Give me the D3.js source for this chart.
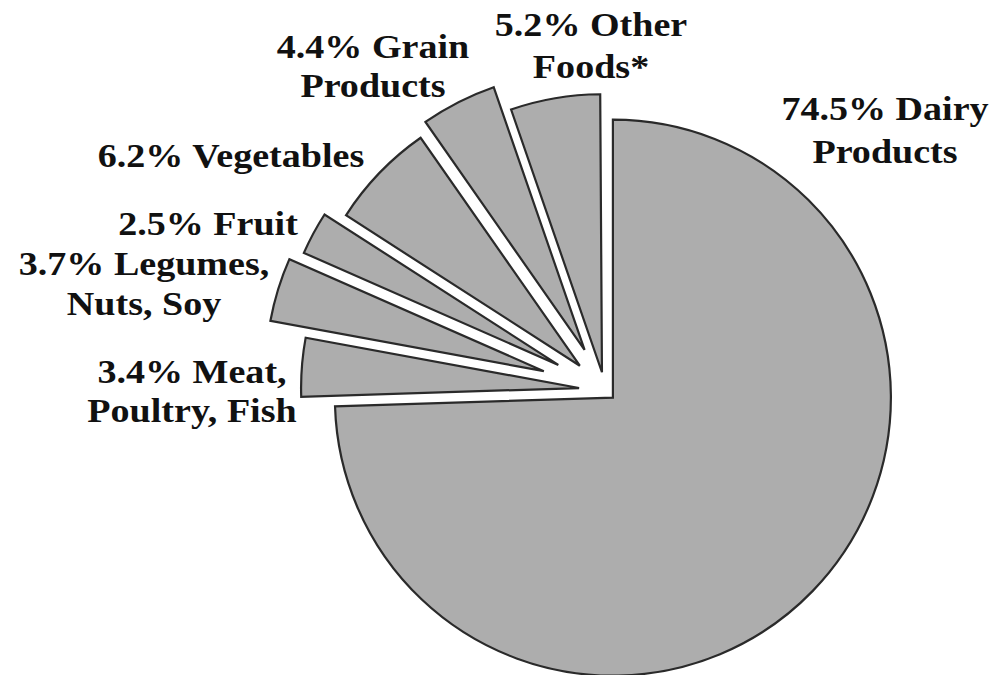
<!DOCTYPE html>
<html>
<head>
<meta charset="utf-8">
<script src="https://cdn.jsdelivr.net/npm/d3@7/dist/d3.min.js"></script>
<style>
  html, body { margin: 0; padding: 0; background: #ffffff; }
  svg { display: block; }
</style>
</head>
<body>
<svg id="chart" width="996" height="675"></svg>
<script>
// ---- data ----
const categories = ["Dairy Products", "Meat, Poultry, Fish", "Legumes, Nuts, Soy", "Fruit", "Vegetables", "Grain Products", "Other Foods*"];
const values = [74.5, 3.4, 3.7, 2.5, 6.2, 4.4, 5.2];
const labelLines = [
  ["74.5% Dairy", "Products"],
  ["3.4% Meat,", "Poultry, Fish"],
  ["3.7% Legumes,", "Nuts, Soy"],
  ["2.5% Fruit"],
  ["6.2% Vegetables"],
  ["4.4% Grain", "Products"],
  ["5.2% Other", "Foods*"]
];

// ---- style / layout ----
const cx = 605, cy = 390, radius = 278;
const explode = [11, 26, 64, 53, 35, 45, 18];          // per-slice pull-out distance (px)
const labelPos = [                                     // label anchor (centre x, first baseline y, line gap)
  [885, 120, 43],
  [192, 383, 39],
  [144, 275, 40],
  [208, 235, 40],
  [231, 167, 40],
  [373, 58, 39],
  [591, 36, 42]
];

const svg = d3.select("#chart");
const total = d3.sum(values);

const pie = d3.pie()
  .sort(null)
  .value(d => d)
  .startAngle(0)
  .endAngle(2 * Math.PI * total / 100);

const arc = d3.arc().innerRadius(0).outerRadius(radius);
const arcs = pie(values);

const g = svg.append("g").attr("transform", `translate(${cx},${cy})`);

g.selectAll("path.slice")
  .data(arcs)
  .join("path")
  .attr("class", "slice")
  .attr("d", arc)
  .attr("transform", (d, i) => {
    const a = (d.startAngle + d.endAngle) / 2;
    const dx = Math.sin(a) * explode[i];
    const dy = -Math.cos(a) * explode[i];
    return `translate(${dx},${dy})`;
  })
  .attr("fill", "#adadad")
  .attr("stroke", "#2a2a2a")
  .attr("stroke-width", 2.2)
  .attr("stroke-linejoin", "miter");

// ---- labels ----
const labels = svg.selectAll("g.label")
  .data(categories)
  .join("g")
  .attr("class", "label")
  .attr("transform", (d, i) => `translate(${labelPos[i][0]},${labelPos[i][1]}) scale(1.12,1)`);

labels.each(function(d, i) {
  const sel = d3.select(this);
  labelLines[i].forEach((line, j) => {
    sel.append("text")
      .attr("x", 0)
      .attr("y", j * labelPos[i][2])
      .attr("text-anchor", "middle")
      .attr("font-family", "'Liberation Serif', 'Times New Roman', serif")
      .attr("font-weight", "bold")
      .attr("font-size", 34)
      .attr("fill", "#111")
      .text(line);
  });
});
</script>
</body>
</html>
